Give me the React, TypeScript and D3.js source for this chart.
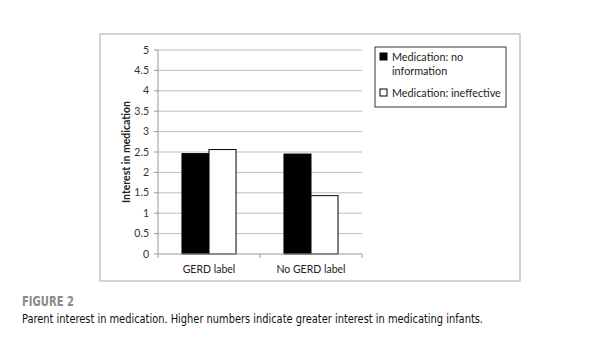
import { useEffect, useRef } from 'react';
import * as d3 from 'd3';

const categories = ['GERD label', 'No GERD label'];
const seriesNames = ['Medication: no information', 'Medication: ineffective'];
const noInfoValues = [2.46, 2.45];
const ineffectiveValues = [2.56, 1.43];
const yTicks = [0, 0.5, 1, 1.5, 2, 2.5, 3, 3.5, 4, 4.5, 5];
const seriesFill = ['#000000', '#ffffff'];

const W = 601;
const H = 351;

export default function App() {
  const svgRef = useRef<SVGSVGElement | null>(null);

  useEffect(() => {
    const svg = d3.select(svgRef.current);
    svg.selectAll('*').remove();

    const font = 'Lato, "Open Sans", sans-serif';
    const plot = { left: 158, right: 362, top: 50, bottom: 254 };

    // outer chart frame
    svg.append('rect')
      .attr('x', 100).attr('y', 34)
      .attr('width', 420).attr('height', 247)
      .attr('fill', '#fff')
      .attr('stroke', '#c4c4c4')
      .attr('stroke-width', 1.5);

    const x = d3.scaleBand<string>()
      .domain(categories)
      .range([plot.left, plot.right])
      .paddingInner(0.47)
      .paddingOuter(0.235);

    const y = d3.scaleLinear().domain([0, 5]).range([plot.bottom, plot.top]);

    // gridlines
    svg.append('g')
      .selectAll('line')
      .data(yTicks.filter(t => t > 0))
      .join('line')
      .attr('x1', plot.left).attr('x2', plot.right)
      .attr('y1', d => y(d)).attr('y2', d => y(d))
      .attr('stroke', '#bdbdbd')
      .attr('stroke-width', 1);

    // y tick labels
    svg.append('g')
      .selectAll('text')
      .data(yTicks)
      .join('text')
      .attr('x', plot.left - 9)
      .attr('y', d => y(d))
      .attr('dy', '0.35em')
      .attr('text-anchor', 'end')
      .attr('font-family', font)
      .attr('font-size', 10.5)
      .attr('fill', '#333')
      .text(d => String(d));

    // y tick marks
    svg.append('g')
      .selectAll('line')
      .data(yTicks)
      .join('line')
      .attr('x1', plot.left - 4).attr('x2', plot.left)
      .attr('y1', d => y(d)).attr('y2', d => y(d))
      .attr('stroke', '#999');

    // bars
    const sub = d3.scaleBand<number>()
      .domain([0, 1])
      .range([0, x.bandwidth()]);

    const rows = categories.map((c, i) => ({ c, vals: [noInfoValues[i], ineffectiveValues[i]] }));
    const groups = svg.append('g')
      .selectAll('g')
      .data(rows)
      .join('g')
      .attr('transform', d => `translate(${x(d.c)},0)`);

    groups.selectAll('rect')
      .data(d => d.vals.map((v, s) => ({ v, s })))
      .join('rect')
      .attr('x', d => sub(d.s)!)
      .attr('y', d => y(d.v))
      .attr('width', sub.bandwidth())
      .attr('height', d => y(0) - y(d.v))
      .attr('fill', d => seriesFill[d.s])
      .attr('stroke', '#000')
      .attr('stroke-width', 1);

    // axes lines
    svg.append('line')
      .attr('x1', plot.left).attr('x2', plot.left)
      .attr('y1', plot.top).attr('y2', plot.bottom)
      .attr('stroke', '#999');
    svg.append('line')
      .attr('x1', plot.left).attr('x2', plot.right)
      .attr('y1', plot.bottom).attr('y2', plot.bottom)
      .attr('stroke', '#999');

    // x ticks at category boundaries
    const step = x.step();
    const bounds = [plot.left, plot.left + step, plot.right];
    svg.append('g')
      .selectAll('line')
      .data(bounds)
      .join('line')
      .attr('x1', d => d).attr('x2', d => d)
      .attr('y1', plot.bottom).attr('y2', plot.bottom + 4)
      .attr('stroke', '#999');

    svg.append('g')
      .selectAll('text')
      .data(categories)
      .join('text')
      .attr('x', d => x(d)! + x.bandwidth() / 2)
      .attr('y', 273)
      .attr('text-anchor', 'middle')
      .attr('font-family', font)
      .attr('font-size', 10.5)
      .attr('fill', '#222')
      .text(d => d);

    // y axis title
    svg.append('text')
      .attr('transform', `translate(130,${(plot.top + plot.bottom) / 2}) rotate(-90)`)
      .attr('text-anchor', 'middle')
      .attr('font-family', font)
      .attr('font-size', 10.5)
      .attr('font-weight', 'bold')
      .attr('fill', '#222')
      .text('Interest in medication');

    // legend
    const lg = svg.append('g');
    lg.append('rect')
      .attr('x', 375).attr('y', 47)
      .attr('width', 131).attr('height', 60)
      .attr('fill', '#fff')
      .attr('stroke', '#333')
      .attr('stroke-width', 1);

    const legendRows = [
      { lines: ['Medication: no', 'information'], y: 57 },
      { lines: ['Medication: ineffective'], y: 93 },
    ];
    legendRows.forEach((r, i) => {
      lg.append('rect')
        .attr('x', 380).attr('y', r.y - 4)
        .attr('width', 7).attr('height', 7)
        .attr('fill', seriesFill[i])
        .attr('stroke', '#000');
      r.lines.forEach((t, j) => {
        lg.append('text')
          .attr('x', 392)
          .attr('y', r.y + j * 14)
          .attr('dy', '0.35em')
          .attr('font-family', font)
          .attr('font-size', 10.8)
          .attr('fill', '#222')
          .text(t);
      });
    });

    // caption
    svg.append('text')
      .attr('x', 22).attr('y', 306)
      .attr('font-family', '"Liberation Sans Narrow", "DejaVu Sans Condensed", sans-serif')
      .attr('font-weight', 'bold')
      .attr('font-size', 13.5)
      .attr('fill', '#8a8a8a')
      .attr('textLength', 52)
      .attr('lengthAdjust', 'spacingAndGlyphs')
      .text('FIGURE 2');
    svg.append('text')
      .attr('x', 22).attr('y', 323)
      .attr('font-family', '"Liberation Sans Narrow", "DejaVu Sans Condensed", sans-serif')
      .attr('font-size', 12)
      .attr('fill', '#111')
      .attr('textLength', 461)
      .attr('lengthAdjust', 'spacingAndGlyphs')
      .text('Parent interest in medication. Higher numbers indicate greater interest in medicating infants.');
  }, []);

  return (
    <div style={{ position: 'fixed', left: 0, top: 0, width: W, height: H, background: '#fff' }}>
      <svg ref={svgRef} width={W} height={H} />
    </div>
  );
}
